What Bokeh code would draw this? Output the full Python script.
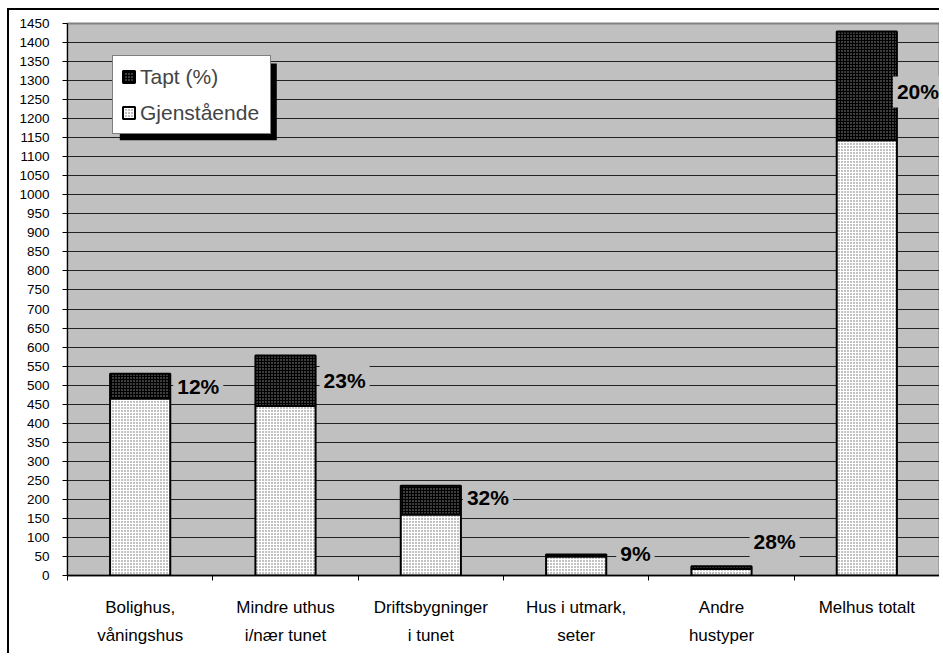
from bokeh.plotting import figure
from bokeh.models import (Range1d, FixedTicker, Legend, LegendItem, Label,
                          BoxAnnotation)
from bokeh.embed import file_html
from bokeh.resources import INLINE

# ---- data ----
categories = ["Bolighus,\nvåningshus", "Mindre uthus\ni/nær tunet",
              "Driftsbygninger\ni tunet", "Hus i utmark,\nseter",
              "Andre\nhustyper", "Melhus totalt"]
gjenstaaende = [465, 445, 160, 50, 17, 1143]
tapt = [65, 133, 76, 5, 7, 286]
tapt_pct = ["12%", "23%", "32%", "9%", "28%", "20%"]
y_ticks = list(range(0, 1451, 50))

# ---- styling ----
FONT = "Liberation Sans"
xs = [i + 1 for i in range(len(categories))]
bar_w = 0.414
lbl_pad = 4
lbl_dx = [3, 4, 2, 10, -2, -4]
lbl_dy = [0, 0, 3, 2, 26, -6]

p = figure(width=932, height=645, output_backend="svg", toolbar_location=None,
           x_range=Range1d(0.5, 6.5), y_range=Range1d(0, 1450),
           min_border_left=58, min_border_right=2, min_border_top=13,
           min_border_bottom=80)
p.styles = {"border-top": "2px solid black", "border-left": "2px solid black",
            "margin-left": "7px", "margin-top": "8px"}
p.background_fill_color = "#c0c0c0"
p.border_fill_color = "white"
p.outline_line_color = "#808080"
p.outline_line_width = 2

tops = [g + t for g, t in zip(gjenstaaende, tapt)]
r_g = p.vbar(x=xs, width=bar_w, bottom=0, top=gjenstaaende,
             fill_color="white", line_color="black", line_width=2,
             hatch_pattern="dot", hatch_color="#666666", hatch_scale=3,
             hatch_weight=1)
r_t = p.vbar(x=xs, width=bar_w, bottom=gjenstaaende, top=tops,
             fill_color="black", line_color="black", line_width=2,
             hatch_pattern="dot", hatch_color="#999999", hatch_scale=3,
             hatch_weight=1)

# grid
p.xgrid.visible = False
p.ygrid.ticker = FixedTicker(ticks=y_ticks)
p.ygrid.grid_line_color = "#222222"
p.ygrid.grid_line_width = 1

# y axis
p.yaxis.ticker = FixedTicker(ticks=y_ticks)
p.yaxis.major_label_text_font = FONT
p.yaxis.major_label_text_font_size = "13.5px"
p.yaxis.major_label_text_color = "black"
p.yaxis.axis_line_color = "black"
p.yaxis.major_tick_line_color = "black"
p.yaxis.major_tick_out = 5
p.yaxis.major_tick_in = 0
p.yaxis.minor_tick_line_color = None
p.yaxis.major_label_standoff = 13

# x axis
p.xaxis.ticker = FixedTicker(ticks=xs, minor_ticks=[x - 0.5 for x in xs] + [xs[-1] + 0.5])
p.xaxis.major_label_overrides = {x: c for x, c in zip(xs, categories)}
p.xaxis.major_label_text_font = FONT
p.xaxis.major_label_text_font_size = "17px"
p.xaxis.major_label_text_color = "black"
p.xaxis.major_label_text_line_height = 1.5
p.xaxis.major_tick_line_color = None
p.xaxis.major_tick_out = 0
p.xaxis.major_tick_in = 0
p.xaxis.minor_tick_line_color = "black"
p.xaxis.minor_tick_out = 5
p.xaxis.minor_tick_in = 0
p.xaxis.axis_line_color = "black"
p.xaxis.axis_line_width = 1.5
p.xaxis.major_label_standoff = 17

# percent labels
for i in range(len(xs)):
    p.add_layout(Label(x=xs[i] + bar_w / 2, y=gjenstaaende[i] + tapt[i] / 2,
                       x_offset=lbl_dx[i], y_offset=lbl_dy[i], text=tapt_pct[i],
                       text_align="left", text_baseline="middle",
                       text_font=FONT, text_font_style="bold",
                       text_font_size="21px", text_color="black",
                       background_fill_color="#c0c0c0", padding=lbl_pad))

# legend shadow
p.add_layout(BoxAnnotation(left=0.86, right=1.94, top=1345, bottom=1143,
                           fill_color="black", fill_alpha=1, line_color=None,
                           level="overlay"))

legend = Legend(items=[LegendItem(label="Tapt (%)", renderers=[r_t]),
                       LegendItem(label="Gjenstående", renderers=[r_g])],
                location=(45, 441), orientation="vertical",
                label_text_font=FONT, label_text_font_size="21px",
                label_height=25, label_width=122, glyph_height=15,
                glyph_width=15, label_standoff=4, spacing=11, padding=8,
                border_line_color="black", border_line_width=1,
                background_fill_color="white", background_fill_alpha=1,
                margin=0, level="overlay")
p.add_layout(legend, "center")

open("out.html", "w").write(file_html(p, INLINE))
